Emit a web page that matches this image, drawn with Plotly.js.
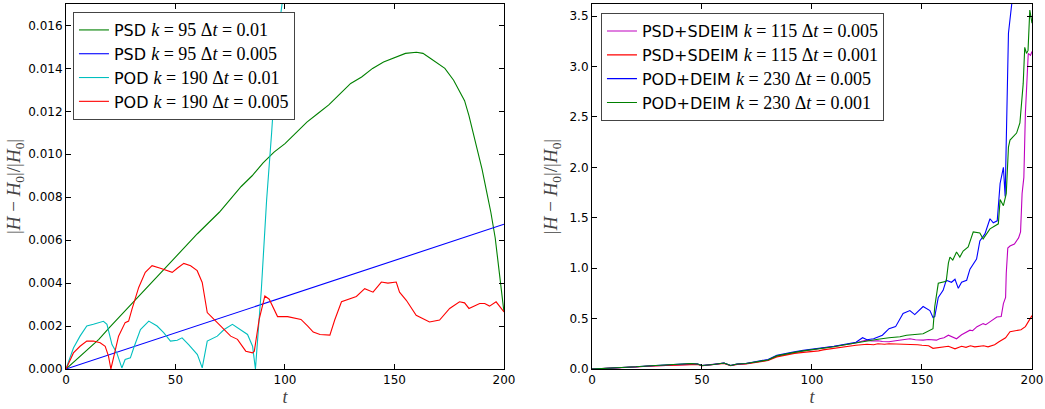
<!DOCTYPE html>
<html>
<head>
<meta charset="utf-8">
<script src="https://cdn.plot.ly/plotly-3.0.1.min.js"></script>
<style>html,body{margin:0;padding:0;background:#fff;}#chart{width:1045px;height:409px;}</style>
</head>
<body>
<div id="chart"></div>
<script>
// ---------- Left panel data ----------
const psd1_t = [0,5,10,15,20,25,30,35,40,45,50,55,60,65,70,75,80,85,90,95,100,105,110,115,120,125,130,135,140,145,150,155,160,163,166,170,173,177,180,182,184,186,188,190,192,194,196,198,199,200];
const psd1_v = [0,0.00045,0.0009,0.00138,0.00195,0.0025,0.00305,0.0036,0.00415,0.0047,0.0052,0.0058,0.0063,0.0068,0.0073,0.0079,0.0085,0.009,0.0096,0.0101,0.0105,0.011,0.0115,0.0119,0.0123,0.0128,0.0133,0.0136,0.014,0.0143,0.0145,0.0147,0.01475,0.0147,0.0145,0.0142,0.014,0.01345,0.0129,0.0125,0.0118,0.011,0.0101,0.0093,0.0083,0.0073,0.0061,0.0045,0.0036,0.00265];

const psd2_t = [0,25,50,75,100,125,150,175,200];
const psd2_v = [0,0.00084,0.00168,0.00253,0.00337,0.00421,0.00505,0.0059,0.00674];

const pod1_t = [0,3.4,6.4,9.5,12.5,15.6,17.1,18.7,21,23.2,25.5,27,29.4,30.9,34,37.8,41.6,44.6,47.7,50.8,53,56,60,62.2,64.5,69.1,72.2,76,79.8,82.9,85.2,86.5,89.2,91.6,93.9,95.4,96.9,98.9];
const pod1_v = [0,0.00098,0.00153,0.002,0.00208,0.00216,0.00222,0.00208,0.00114,0.00075,0.00005,0.00044,0.00052,0.00098,0.00184,0.00223,0.002,0.00169,0.0013,0.00134,0.00145,0.00114,0.00067,0.00005,0.0013,0.00153,0.00184,0.00208,0.00184,0.00161,0.00106,0,0.0037,0.00786,0.011,0.0133,0.0156,0.0172];

const pod2_t = [0,3.4,6.4,9.5,12.5,15.6,17.9,19.4,20.5,21.7,24,27,28.6,30.1,33.2,36.2,39.3,43.1,46.2,48.5,50.8,53.8,56.9,59.9,62.2,64.5,67.6,70.6,75.2,78.3,82.1,85.2,86,88.2,90.8,92.8,96.6,101.2,107.3,110.4,112.9,116,120.5,122.7,125.8,132.6,136.4,140.2,144,147,150.8,152.3,155.4,159.9,166,170.6,175.2,179.7,182,184,188.9,191.2,193.4,196.4,200];
const pod2_v = [0,0.00075,0.00106,0.0013,0.0013,0.00122,0.00106,0.0006,0,0.00052,0.00153,0.00216,0.00223,0.00278,0.0038,0.0045,0.00481,0.00469,0.00458,0.0045,0.00469,0.00492,0.00481,0.00458,0.00403,0.00263,0.00231,0.002,0.00153,0.00138,0.00083,0.00075,0.00083,0.00231,0.0034,0.00325,0.00244,0.00244,0.00231,0.002,0.00172,0.00161,0.00158,0.00228,0.00313,0.00338,0.00374,0.00358,0.00405,0.004,0.00405,0.00358,0.0032,0.0025,0.00219,0.00228,0.00282,0.00313,0.00308,0.00282,0.00305,0.00305,0.00293,0.00313,0.00266];

// ---------- Right panel data ----------
const sdeim1_t = [0,5,10,15,20,25,30,35,40,45,48,50,55,60,63,66,70,75,80,84,88,92,96,100,103,105,108,110,113,115,118,120,122,124.7,127,130,132,135,138,140,142,144.5,147,150.5,153,156.6,158,160,162,164,165.7,168,170,171.8,173,175,177.8,179,181,183,184,186,187,188,188.3,189,190,192,193.9,194.8,195.5,196.3,197,198.3,199.3,200];
const sdeim1_v = [0,0.004,0.008,0.012,0.02,0.028,0.033,0.038,0.043,0.052,0.048,0.033,0.043,0.058,0.035,0.048,0.053,0.07,0.088,0.128,0.148,0.162,0.178,0.19,0.2,0.205,0.215,0.22,0.232,0.24,0.25,0.26,0.27,0.286,0.278,0.28,0.272,0.27,0.28,0.285,0.29,0.3,0.29,0.286,0.292,0.286,0.3,0.31,0.335,0.315,0.3,0.34,0.36,0.385,0.38,0.42,0.45,0.44,0.47,0.5,0.516,0.52,0.648,0.71,0.95,1.2,1.22,1.24,1.3,1.36,1.74,1.9,2.54,3.13,3.11,3.15];

const sdeim2_t = [0,5,10,15,20,25,30,35,40,45,48,50,55,60,63,66,70,75,80,84,88,92,96,100,103,105,108,110,113,115,118,120,125,128,130,133,135,138,140,143,145,148,150,153,155,158,160,162,165,168,170,172,174,176,178,180,183,185,188,190,193,195,197,198.5,200];
const sdeim2_v = [0,0.004,0.008,0.012,0.02,0.027,0.032,0.037,0.042,0.05,0.046,0.032,0.042,0.055,0.033,0.045,0.05,0.066,0.085,0.12,0.14,0.155,0.165,0.17,0.18,0.19,0.2,0.205,0.212,0.22,0.228,0.235,0.245,0.24,0.25,0.245,0.25,0.248,0.252,0.245,0.245,0.24,0.235,0.23,0.205,0.215,0.22,0.225,0.2,0.225,0.215,0.23,0.22,0.225,0.23,0.22,0.24,0.27,0.31,0.37,0.38,0.39,0.42,0.47,0.53];

const deim1_t = [0,5,10,15,20,25,30,35,40,45,48,50,55,60,63,66,70,75,80,84,88,92,96,100,105,110,115,120,123,125,128,132,135,138,141.4,144.5,146.7,150.5,153.6,155,155.8,157.4,159.6,161,163.4,165,166.5,168,170.3,171.8,174.8,176.3,178.6,180.9,182.4,184.2,185.5,187,187.8,188.5,189.3,191.2];
const deim1_v = [0,0.004,0.008,0.012,0.022,0.03,0.035,0.04,0.045,0.055,0.05,0.035,0.045,0.06,0.035,0.05,0.055,0.075,0.095,0.135,0.155,0.17,0.185,0.195,0.21,0.225,0.245,0.265,0.31,0.29,0.3,0.335,0.4,0.42,0.55,0.58,0.54,0.62,0.58,0.51,0.52,0.71,0.78,0.88,0.86,0.89,0.8,0.86,0.88,0.99,1.09,1.27,1.34,1.49,1.45,1.47,1.84,2.0,1.71,2.67,3.33,3.7];

const deim2_t = [0,5,10,15,20,25,30,35,40,45,48,50,55,60,63,66,70,75,80,84,88,92,96,100,105,110,115,120,125,130,135,140,143,147,150.5,155,155.8,157.4,159,161,162,162.7,164,165.7,167.2,168.7,171,173.3,176.3,177.8,180.9,184.7,185.5,187,188.3,189.3,190,193,194.5,196,196.7,197.5,198.2,199,200];
const deim2_v = [0,0.004,0.008,0.012,0.022,0.03,0.035,0.04,0.045,0.055,0.05,0.035,0.045,0.06,0.035,0.05,0.055,0.072,0.09,0.13,0.15,0.165,0.18,0.19,0.205,0.22,0.24,0.26,0.28,0.295,0.31,0.32,0.335,0.34,0.35,0.4,0.62,0.85,0.86,0.87,1.05,1.11,1.08,1.16,1.11,1.17,1.21,1.36,1.35,1.29,1.39,1.44,1.68,1.62,1.74,2.2,2.27,2.34,2.44,2.83,3.19,3.13,3.16,3.56,3.43];

// ---------- Labels ----------
const SERIF = 'Liberation Serif';
function lab(name, k, dt) {
  return name + ' <span style="font-family:' + SERIF + ';font-size:18px"><i>k</i> = ' + k + ' Δ<i>t</i> = ' + dt + '</span>';
}
const leftNames = [lab('PSD', 95, '0.01'), lab('PSD', 95, '0.005'), lab('POD', 190, '0.01'), lab('POD', 190, '0.005')];
const rightNames = [lab('PSD+SDEIM', 115, '0.005'), lab('PSD+SDEIM', 115, '0.001'), lab('POD+DEIM', 230, '0.005'), lab('POD+DEIM', 230, '0.001')];

function tr(x, y, name, color, xa, ya, leg) {
  return {x: x, y: y, name: name, type: 'scatter', mode: 'lines',
          line: {color: color, width: 1.1}, xaxis: xa, yaxis: ya, legend: leg};
}

const traces = [
  tr(psd1_t, psd1_v, leftNames[0], '#008000', 'x', 'y', 'legend'),
  tr(psd2_t, psd2_v, leftNames[1], '#0000ff', 'x', 'y', 'legend'),
  tr(pod1_t, pod1_v, leftNames[2], '#00bfbf', 'x', 'y', 'legend'),
  tr(pod2_t, pod2_v, leftNames[3], '#ff0000', 'x', 'y', 'legend'),
  tr(sdeim1_t, sdeim1_v, rightNames[0], '#bf00bf', 'x2', 'y2', 'legend2'),
  tr(sdeim2_t, sdeim2_v, rightNames[1], '#ff0000', 'x2', 'y2', 'legend2'),
  tr(deim1_t, deim1_v, rightNames[2], '#0000ff', 'x2', 'y2', 'legend2'),
  tr(deim2_t, deim2_v, rightNames[3], '#008000', 'x2', 'y2', 'legend2')
];

const tickFont = {family: 'DejaVu Sans', size: 12, color: '#000'};
function axBase() {
  return {showline: true, linecolor: '#000', linewidth: 1, mirror: 'allticks',
          ticks: 'inside', ticklen: 5, tickwidth: 1, tickcolor: '#000',
          showgrid: false, zeroline: false, tickfont: tickFont};
}
const yTitle = '|<i>H</i> − <i>H</i><sub>0</sub>|/|<i>H</i><sub>0</sub>|';

const layout = {
  width: 1045, height: 409,
  margin: {l: 66, r: 13, t: 4, b: 40},
  paper_bgcolor: '#fff', plot_bgcolor: '#fff',
  showlegend: true,
  xaxis: Object.assign(axBase(), {domain: [0, 0.4534], range: [0, 200], tickvals: [0, 50, 100, 150, 200],
    title: {text: '<i>t</i>', font: {family: SERIF, size: 18}, standoff: 3}, anchor: 'y'}),
  yaxis: Object.assign(axBase(), {range: [0, 0.017], tickvals: [0, 0.002, 0.004, 0.006, 0.008, 0.01, 0.012, 0.014, 0.016],
    tickformat: '.3f', title: {text: yTitle, font: {family: SERIF, size: 19}, standoff: 2}, anchor: 'x'}),
  xaxis2: Object.assign(axBase(), {domain: [0.5445, 1], range: [0, 200], tickvals: [0, 50, 100, 150, 200],
    title: {text: '<i>t</i>', font: {family: SERIF, size: 18}, standoff: 3}, anchor: 'y2'}),
  yaxis2: Object.assign(axBase(), {range: [0, 3.62], tickvals: [0, 0.5, 1, 1.5, 2, 2.5, 3, 3.5],
    tickformat: '.1f', title: {text: yTitle, font: {family: SERIF, size: 19}, standoff: 6}, anchor: 'x2'}),
  legend: {x: 0.0072, y: 0.978, xanchor: 'left', yanchor: 'top', bgcolor: '#fff',
    bordercolor: '#444', borderwidth: 1, font: {family: 'DejaVu Sans', size: 16, color: '#000'},
    itemwidth: 30, tracegroupgap: 0},
  legend2: {x: 0.5538, y: 0.975, xanchor: 'left', yanchor: 'top', bgcolor: '#fff',
    bordercolor: '#444', borderwidth: 1, font: {family: 'DejaVu Sans', size: 16, color: '#000'},
    itemwidth: 30, tracegroupgap: 0}
};

Plotly.newPlot('chart', traces, layout, {displayModeBar: false, staticPlot: true});
</script>
</body>
</html>
